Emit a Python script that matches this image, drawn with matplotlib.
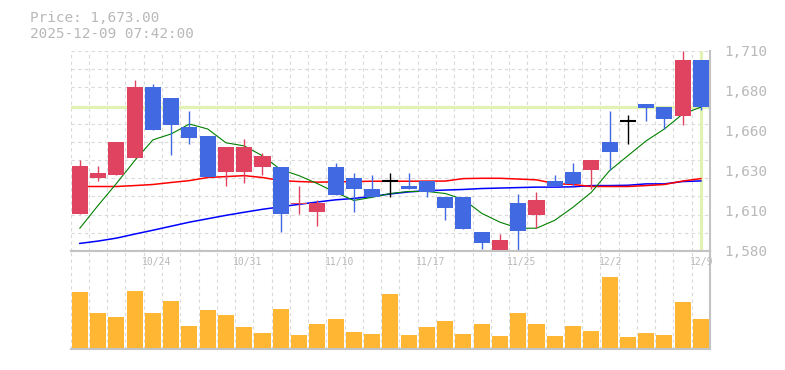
# Candlestick chart with moving averages and volume
import numpy as np
import matplotlib
matplotlib.use("Agg")
import matplotlib.pyplot as plt
import matplotlib.transforms as mtransforms

# trading days (10/20 - 12/9)
dates = ['10/20', '10/21', '10/22', '10/23', '10/24', '10/27', '10/28', '10/29', '10/30', '10/31',
         '11/4', '11/5', '11/6', '11/7', '11/10', '11/11', '11/12', '11/13', '11/14', '11/17',
         '11/18', '11/19', '11/20', '11/21', '11/25', '11/26', '11/27', '11/28', '12/1', '12/2',
         '12/3', '12/4', '12/5', '12/8', '12/9']
date_labels = ['10/24', '10/31', '11/10', '11/17', '11/25', '12/2', '12/9']

open_ = [1604, 1627, 1629, 1640, 1686, 1679, 1660, 1654, 1631, 1631,
         1634, 1634, 1610, 1605, 1634, 1627, 1620, 1625, 1622, 1625,
         1615, 1615, 1592, 1580, 1611, 1603, 1625, 1631, 1632, 1650,
         1664, 1675, 1673, 1667, 1703]
high = [1639, 1635, 1650, 1690, 1688, 1679, 1670, 1654, 1647, 1652,
        1643, 1634, 1622, 1613, 1637, 1630, 1629, 1630, 1630, 1625,
        1615, 1615, 1592, 1591, 1617, 1618, 1629, 1637, 1639, 1670,
        1668, 1675, 1673, 1709, 1703]
low = [1604, 1625, 1629, 1640, 1658, 1642, 1649, 1628, 1622, 1624,
       1629, 1592, 1604, 1596, 1616, 1605, 1615, 1615, 1620, 1615,
       1600, 1594, 1581, 1580, 1580, 1595, 1622, 1622, 1620, 1632,
       1649, 1664, 1659, 1661, 1671]
close = [1635, 1630, 1650, 1686, 1658, 1661, 1653, 1628, 1647, 1647,
         1641, 1604, 1611, 1611, 1616, 1620, 1615, 1625, 1620, 1618,
         1608, 1594, 1585, 1587, 1593, 1613, 1622, 1623, 1639, 1644,
         1664, 1672, 1665, 1703, 1673]

# moving averages (short / mid / long)
ma_short = [1594.7, 1609.4, 1623.5, 1638.2, 1651.7, 1655.5, 1661.9, 1658.7, 1649.8, 1647.8,
            1641.4, 1632.5, 1628.6, 1623.5, 1617.8, 1612.6, 1614.6, 1617.1, 1618.4, 1618.4,
            1617.1, 1613.3, 1604.3, 1598.6, 1594.7, 1594.7, 1599.8, 1608.2, 1617.8, 1631.8,
            1641.4, 1651.0, 1658.7, 1668.3, 1672.8]
ma_mid = [1621.6, 1621.6, 1621.6, 1622.2, 1622.9, 1624.2, 1625.4, 1627.4, 1628.0, 1628.6,
          1627.4, 1625.4, 1624.8, 1624.4, 1624.6, 1624.8, 1625.0, 1625.0, 1625.0, 1625.1,
          1625.1, 1626.7, 1626.9, 1626.9, 1626.4, 1625.9, 1623.5, 1622.9, 1621.6, 1621.6,
          1621.6, 1622.2, 1622.9, 1625.1, 1626.7]
ma_long = [1584.9, 1586.4, 1588.3, 1590.9, 1593.4, 1596.0, 1598.6, 1600.8, 1603.0, 1605.0,
           1606.9, 1608.5, 1610.1, 1611.6, 1613.0, 1613.9, 1615.2, 1616.8, 1618.1, 1618.9,
           1619.3, 1619.7, 1620.3, 1620.6, 1620.9, 1621.2, 1621.2, 1621.4, 1622.2, 1622.2,
           1622.4, 1623.3, 1623.3, 1624.8, 1625.2]

volume = [565, 355, 315, 575, 355, 475, 225, 385, 335, 215,
          155, 395, 135, 245, 295, 165, 145, 545, 135, 215,
          275, 145, 245, 125, 355, 245, 125, 225, 175, 715,
          115, 155, 135, 465, 295]

price_now = 1673
stamp = '2025-12-09 07:42:00'

up_col = '#e0435f'
down_col = '#4169e1'
grid_col = '#d9d9d9'
spine_col = '#c3c3c3'
text_col = '#b9b9b9'
mono = 'DejaVu Sans Mono'

x = np.arange(len(dates))
o = np.array(open_)
c = np.array(close)
h = np.array(high)
l = np.array(low)

fig = plt.figure(figsize=(7.85, 3.70), dpi=100)
ax = fig.add_axes([70.7/785, 119/370, 639.3/785, 200/370])
ax2 = fig.add_axes([70.7/785, 21/370, 639.3/785, 98/370])

ylo, yhi = l.min(), h.max()
ax.set_xlim(-0.5, len(x) - 0.5)
ax.set_ylim(ylo, yhi)
ax2.set_xlim(-0.5, len(x) - 0.5)
ax2.set_ylim(0, max(volume) * 1.37)

# grid
dash = (0, (3, 3))
for a in (ax, ax2):
    a.vlines(x - 0.5, 0, 1, transform=a.get_xaxis_transform(), colors=grid_col,
             linewidth=0.8, linestyles=dash, zorder=0)
ax.hlines(np.linspace(ylo, yhi, 12)[1:], -0.5, len(x) - 0.5, colors=grid_col,
          linewidth=0.8, linestyles=dash, zorder=0)

# current price markers
ax.axhline(price_now, color='#e1f3b4', linewidth=2.3, zorder=1)
ax.axvline(x[-1], ymin=0.015, ymax=1, color='#e1f3b4', linewidth=2.3, zorder=1)

# moving averages
ax.plot(x, ma_long, color='#0000ff', linewidth=1.1, zorder=2)
ax.plot(x, ma_mid, color='#ff0000', linewidth=1.1, zorder=2)
ax.plot(x, ma_short, color='#008000', linewidth=0.8, zorder=2)

# candles
w = 0.88
cols = np.where(c > o, up_col, np.where(c < o, down_col, 'black'))
ax.vlines(x, l, h, colors=cols, linewidth=1.0, zorder=3)
body = np.abs(c - o)
ax.bar(x, body, w, bottom=np.minimum(o, c), color=cols, zorder=4)
doji = c == o
ax.hlines(c[doji], x[doji] - w/2, x[doji] + w/2, colors='black', linewidth=1.5, zorder=4)

# volume
ax2.bar(x, volume, w, color='#ffb733', zorder=2)

for a in (ax, ax2):
    a.spines['left'].set_visible(False)
    a.spines['top'].set_visible(False)
    for s in ('right', 'bottom', 'top'):
        a.spines[s].set_color(spine_col)
        a.spines[s].set_linewidth(1.5)
    a.set_xticks([])
ax2.spines['top'].set_visible(True)
ax2.set_yticks([])

ticks = np.linspace(ylo, yhi, 6)
ax.yaxis.tick_right()
ax.set_yticks(ticks)
ax.set_yticklabels([f'{round(t, -1):,.0f}' for t in ticks], family=mono,
                   fontsize=10.4, color=text_col)
ax.tick_params(axis='y', length=0, pad=10)

# date labels inside the volume panel
trans = mtransforms.blended_transform_factory(ax2.transData, ax2.transAxes)
for lab in date_labels:
    i = dates.index(lab)
    ax2.text(i - 0.6, 0.89, lab, transform=trans, ha='left', va='center',
             family=mono, fontsize=7, color=text_col, zorder=5)

fig.text(30/785, 1 - 17.5/370, f'Price: {price_now:,.2f}', family=mono,
         fontsize=10.4, color=text_col, va='center')
fig.text(30/785, 1 - 33.5/370, stamp, family=mono, fontsize=10.4,
         color=text_col, va='center')

fig.savefig('out.png', dpi=100)
